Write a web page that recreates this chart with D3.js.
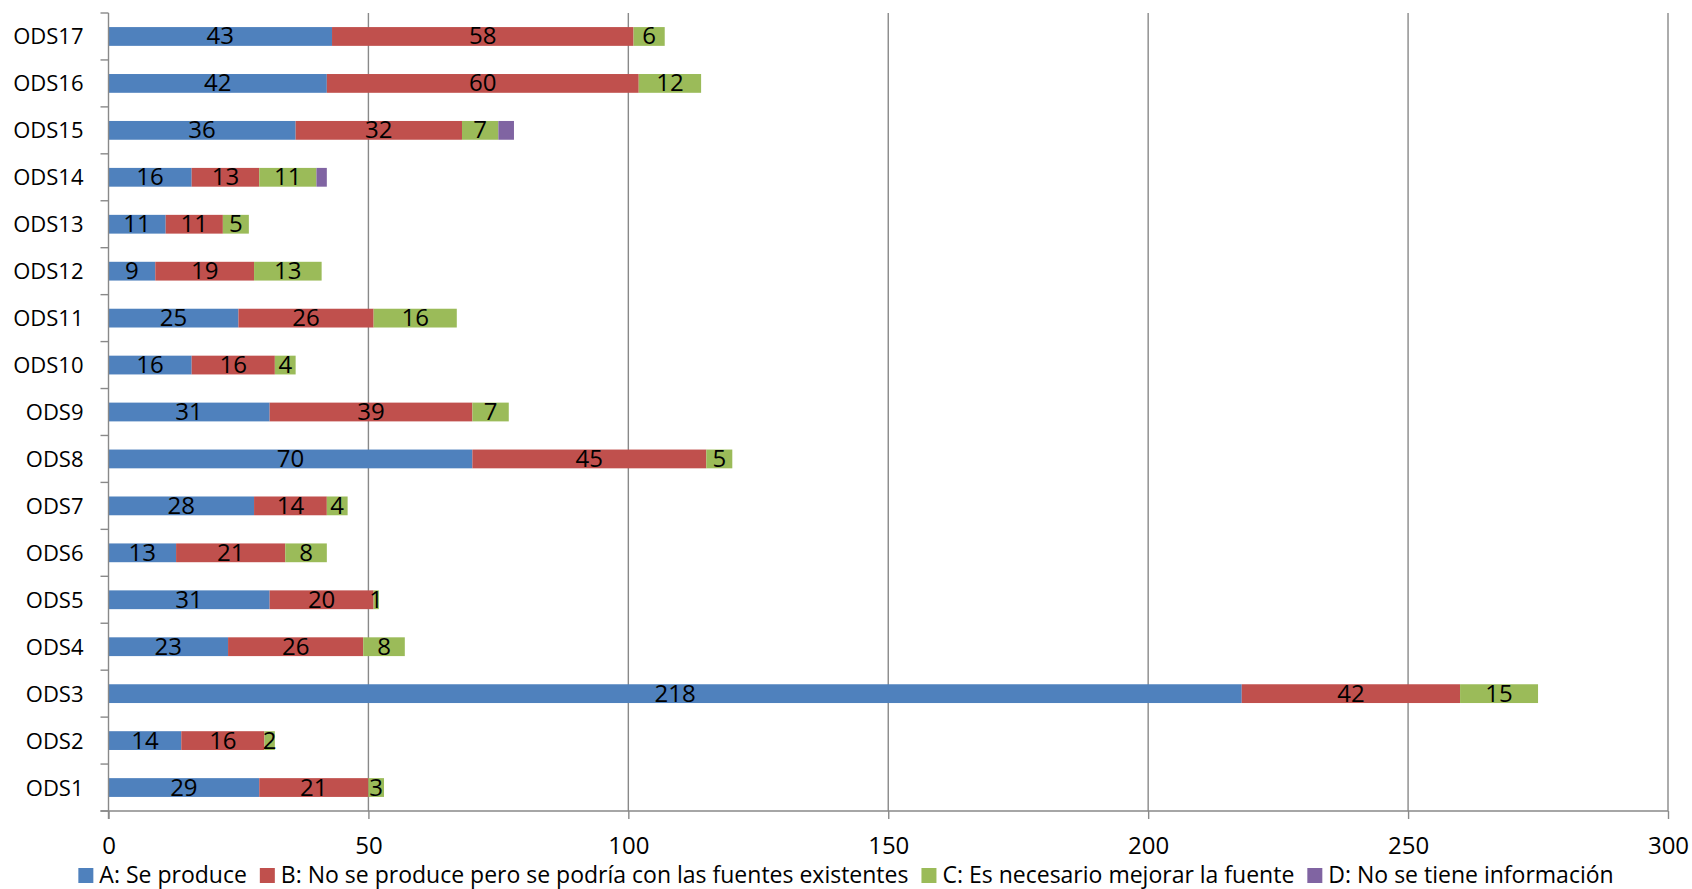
<!DOCTYPE html>
<html>
<head>
<meta charset="utf-8">
<script src="https://cdn.jsdelivr.net/npm/d3@7"></script>
<style>
  html, body { margin: 0; padding: 0; background: #fff; }
  svg { display: block; }
  text { font-family: "Open Sans", "DejaVu Sans", sans-serif; fill: #000; }
</style>
</head>
<body>
<svg id="chart" width="1692" height="889"></svg>
<script>
// ---- data ----
const categories = ["ODS1","ODS2","ODS3","ODS4","ODS5","ODS6","ODS7","ODS8","ODS9","ODS10","ODS11","ODS12","ODS13","ODS14","ODS15","ODS16","ODS17"];
const seriesNames = ["A: Se produce", "B: No se produce pero se podría con las fuentes existentes", "C: Es necesario mejorar la fuente", "D: No se tiene información"];
const seriesA = [29, 14, 218, 23, 31, 13, 28, 70, 31, 16, 25, 9, 11, 16, 36, 42, 43];
const seriesB = [21, 16, 42, 26, 20, 21, 14, 45, 39, 16, 26, 19, 11, 13, 32, 60, 58];
const seriesC = [3, 2, 15, 8, 1, 8, 4, 5, 7, 4, 16, 13, 5, 11, 7, 12, 6];
const seriesD = [0, 0, 0, 0, 0, 0, 0, 0, 0, 0, 0, 0, 0, 2, 3, 0, 0];
const xTicks = [0, 50, 100, 150, 200, 250, 300];
const colors = ["#4F81BD", "#C0504D", "#9BBB59", "#8064A2"];

// ---- layout ----
const svg = d3.select("#chart");
const plot = { left: 108.5, right: 1668, top: 13, bottom: 811 };
const x = d3.scaleLinear().domain([0, 300]).range([plot.left, plot.right]);
const y = d3.scaleBand().domain(categories.slice().reverse()).range([plot.top, plot.bottom]).paddingInner(0).paddingOuter(0);
const barH = y.bandwidth() * 0.4;
const gridColor = "#898989";

// gridlines
svg.append("g").selectAll("line").data(xTicks.filter(d => d > 0)).join("line")
  .attr("x1", d => x(d)).attr("x2", d => x(d))
  .attr("y1", plot.top).attr("y2", plot.bottom)
  .attr("stroke", gridColor).attr("stroke-width", 1.4);

// stacked data
const rows = categories.map((c, i) => ({ cat: c, A: seriesA[i], B: seriesB[i], C: seriesC[i], D: seriesD[i] }));
const keys = ["A", "B", "C", "D"];
const stack = d3.stack().keys(keys)(rows);

const gBars = svg.append("g");
stack.forEach((layer, li) => {
  gBars.append("g").selectAll("rect").data(layer).join("rect")
    .attr("x", d => x(d[0]))
    .attr("width", d => Math.max(0, x(d[1]) - x(d[0])))
    .attr("y", d => y(d.data.cat) + (y.bandwidth() - barH) / 2)
    .attr("height", barH)
    .attr("fill", colors[li]);
});

// labels (series A, B, C)
const labelSize = 24;
stack.slice(0, 3).forEach((layer) => {
  svg.append("g").selectAll("text").data(layer.filter(d => d[1] - d[0] > 0)).join("text")
    .attr("x", d => (x(d[0]) + x(d[1])) / 2)
    .attr("y", d => y(d.data.cat) + y.bandwidth() / 2 + 8)
    .attr("text-anchor", "middle")
    .attr("font-size", labelSize)
    .text(d => d[1] - d[0]);
});

// y axis
const yAxis = d3.axisLeft(y).tickSize(0).tickPadding(0);
const gy = svg.append("g").attr("transform", `translate(${plot.left},0)`).call(yAxis);
gy.select(".domain").remove();
gy.selectAll("text").attr("x", -25).attr("dy", null)
  .attr("y", 8)
  .attr("font-size", 22).attr("font-family", "'Open Sans', sans-serif").attr("fill", "#000");
// y axis line and boundary ticks
svg.append("line").attr("x1", plot.left).attr("x2", plot.left).attr("y1", plot.top).attr("y2", plot.bottom + 8)
  .attr("stroke", gridColor).attr("stroke-width", 1.4);
const boundaries = d3.range(categories.length + 1).map(i => plot.top + i * y.step());
svg.append("g").selectAll("line").data(boundaries).join("line")
  .attr("x1", plot.left - 8).attr("x2", plot.left)
  .attr("y1", d => d).attr("y2", d => d)
  .attr("stroke", gridColor).attr("stroke-width", 1.4);

// x axis
const xAxis = d3.axisBottom(x).tickValues(xTicks).tickSize(8);
const gx = svg.append("g").attr("transform", `translate(0,${plot.bottom})`).call(xAxis);
gx.select(".domain").attr("d", `M${plot.left - 8},0H${plot.right}`).attr("stroke", gridColor).attr("stroke-width", 1.4);
gx.selectAll(".tick line").attr("stroke", gridColor).attr("stroke-width", 1.4);
gx.selectAll("text").attr("dy", null).attr("y", 43)
  .attr("font-size", 24).attr("font-family", "'Open Sans', sans-serif").attr("fill", "#000");

// legend
const legend = svg.append("g");
const legY = 883;
const sq = 15, gapSq = 6, gapItem = 13;
const items = seriesNames.map((name, i) => {
  const g = legend.append("g");
  g.append("rect").attr("width", sq).attr("height", sq).attr("y", legY - sq).attr("fill", colors[i]);
  const t = g.append("text").attr("x", sq + gapSq).attr("y", legY).attr("font-size", 23).text(name);
  return { g, w: sq + gapSq + t.node().getComputedTextLength() };
});
const totalW = d3.sum(items, d => d.w) + gapItem * (items.length - 1);
let cx = 846 - totalW / 2;
items.forEach(it => { it.g.attr("transform", `translate(${cx},0)`); cx += it.w + gapItem; });
</script>
</body>
</html>
